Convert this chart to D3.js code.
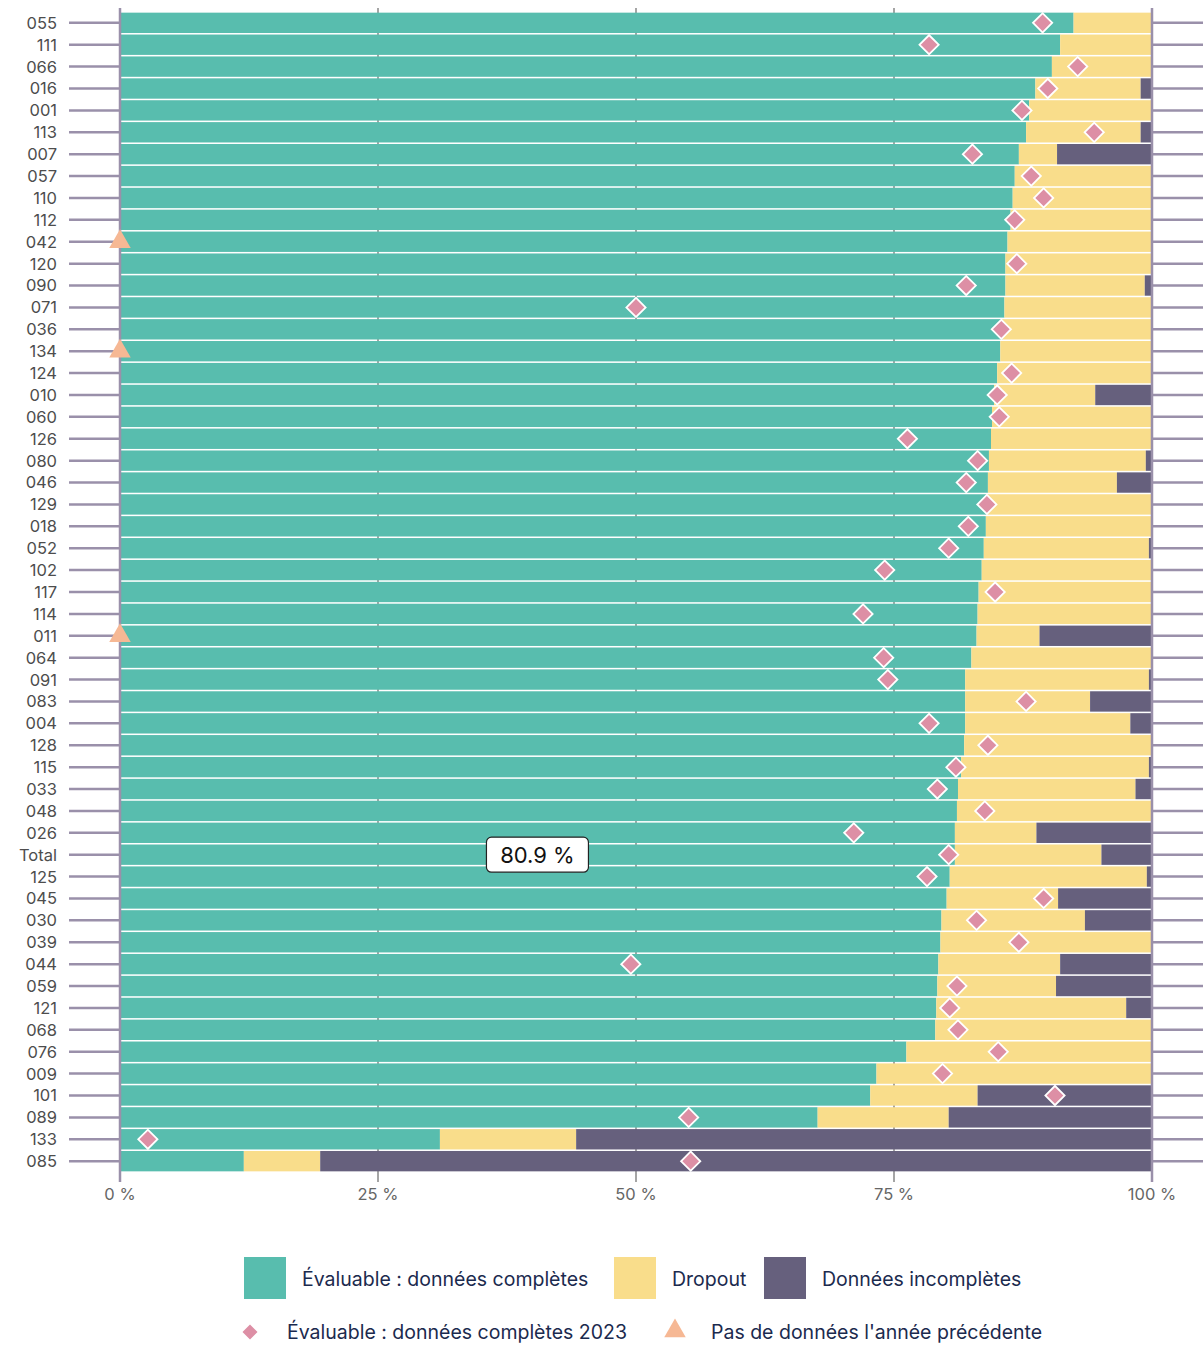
<!DOCTYPE html>
<html>
<head>
<meta charset="utf-8">
<script src="https://cdn.jsdelivr.net/npm/d3@7"></script>
<style>
  body { margin: 0; background: #fff; }
  text { font-family: Inter, "Noto Sans", sans-serif; }
</style>
</head>
<body>
<svg id="chart" width="1203" height="1347"></svg>
<script>
const width = 1203;
const height = 1347;

// categories, top to bottom
var codes = ["055","111","066","016","001","113","007","057","110","112","042","120","090","071","036","134","124","010","060","126",
  "080","046","129","018","052","102","117","114","011","064","091","083","004","128","115","033","048","026","Total","125",
  "045","030","039","044","059","121","068","076","009","101","089","133","085"];

// segment shares in %
var complete = [92.4,91.1,90.3,88.7,88.1,87.8,87.1,86.7,86.5,86.3,86.0,85.8,85.8,85.7,85.5,85.3,85.0,84.7,84.5,84.4,
  84.2,84.1,84.0,83.9,83.7,83.5,83.2,83.1,83.0,82.5,81.9,81.9,81.9,81.8,81.5,81.2,81.1,80.9,80.9,80.4,
  80.1,79.6,79.5,79.3,79.2,79.1,79.0,76.2,73.3,72.7,67.6,31.0,12.0];
var dropout = [7.6,8.9,9.7,10.2,11.9,11.1,3.7,13.3,13.5,13.7,14.0,14.2,13.5,14.3,14.5,14.7,15.0,9.8,15.5,15.6,
  15.2,12.5,16.0,16.1,16.0,16.5,16.7,16.9,6.1,17.5,17.8,12.1,16.0,18.2,18.2,17.2,18.9,7.9,14.2,19.1,
  10.8,13.9,20.5,11.8,11.5,18.4,21.0,23.8,26.7,10.4,12.7,13.2,7.4];
var incomplete = [0,0,0,1.1,0,1.1,9.2,0,0,0,0,0,0.7,0,0,0,0,5.5,0,0,
  0.6,3.4,0,0,0.3,0,0.1,0,10.9,0,0.3,6.0,2.1,0,0.3,1.6,0,11.2,4.9,0.5,
  9.1,6.5,0,8.9,9.3,2.5,0,0,0,16.9,19.7,55.8,80.6];

// complete share 2023, null = no data previous year
var prev2023 = [89.4,78.4,92.8,89.9,87.4,94.4,82.6,88.3,89.5,86.7,null,86.9,82.0,50.0,85.4,null,86.4,85.0,85.2,76.3,
  83.1,82.0,84.0,82.2,80.3,74.1,84.8,72.0,null,74.0,74.4,87.8,78.4,84.1,81.0,79.2,83.8,71.1,80.3,78.2,
  89.5,83.0,87.1,49.5,81.1,80.4,81.2,85.1,79.7,90.6,55.1,2.7,55.3];

var xTicks = [0, 25, 50, 75, 100];
var seriesKeys = ["complete", "dropout", "incomplete"];
var seriesLabels = ["Évaluable : données complètes", "Dropout", "Données incomplètes"];
var colors = ["#58bdae", "#f9dd8b", "#66607d"];
var diamondColor = "#dd8fa5";
var triangleColor = "#f6b894";
var axisColor = "#9a90aa";

var rows = codes.map(function (c, i) {
    return { code: c, complete: complete[i], dropout: dropout[i], incomplete: incomplete[i], prev: prev2023[i] };
});

var svg = d3.select("#chart");

var x = d3.scaleLinear().domain([0, 100]).range([120, 1152]);
var y = d3.scaleBand().domain(codes).range([12, 1172]).paddingInner(0.07).paddingOuter(0.03);

// grid lines
svg.append("g").selectAll("line")
    .data([25, 50, 75])
    .enter().append("line")
    .attr("x1", d => x(d)).attr("x2", d => x(d))
    .attr("y1", 8).attr("y2", 1182)
    .attr("stroke", "#a5a5a5").attr("stroke-width", 2);

// row tick lines left and right
var ticks = svg.append("g");
codes.forEach(function (c) {
    var cy = y(c) + y.bandwidth() / 2;
    ticks.append("line").attr("x1", 69).attr("x2", 120).attr("y1", cy).attr("y2", cy)
        .attr("stroke", axisColor).attr("stroke-width", 2.5);
    ticks.append("line").attr("x1", 1152).attr("x2", 1203).attr("y1", cy).attr("y2", cy)
        .attr("stroke", axisColor).attr("stroke-width", 2.5);
});

// stacked bars
var stack = d3.stack().keys(seriesKeys);
var layers = stack(rows);

svg.append("g").selectAll("g")
    .data(layers)
    .enter().append("g")
    .attr("fill", (d, i) => colors[i])
    .selectAll("rect")
    .data(d => d)
    .enter().append("rect")
    .attr("x", d => x(d[0]))
    .attr("width", d => Math.max(0, x(d[1]) - x(d[0])))
    .attr("y", d => y(d.data.code))
    .attr("height", y.bandwidth());

// axis lines
svg.append("line").attr("x1", 120).attr("x2", 120).attr("y1", 8).attr("y2", 1182)
    .attr("stroke", axisColor).attr("stroke-width", 2.5);
svg.append("line").attr("x1", 1152).attr("x2", 1152).attr("y1", 8).attr("y2", 1182)
    .attr("stroke", axisColor).attr("stroke-width", 2.5);

// y labels
svg.append("g").selectAll("text")
    .data(codes)
    .enter().append("text")
    .attr("x", 57)
    .attr("y", d => y(d) + y.bandwidth() / 2)
    .attr("dy", "0.36em")
    .attr("text-anchor", "end")
    .attr("font-size", 16.5)
    .attr("fill", "#4d4d4d")
    .text(d => d);

// x labels
svg.append("g").selectAll("text")
    .data(xTicks)
    .enter().append("text")
    .attr("x", d => x(d))
    .attr("y", 1200)
    .attr("text-anchor", "middle")
    .attr("font-size", 16.5)
    .attr("fill", "#666")
    .text(d => d + " %");

// diamonds for 2023
var diamond = d3.symbol().type(d3.symbolSquare).size(185);
svg.append("g").selectAll("path")
    .data(rows.filter(d => d.prev != null))
    .enter().append("path")
    .attr("d", diamond)
    .attr("transform", d => "translate(" + x(d.prev) + "," + (y(d.code) + y.bandwidth() / 2) + ") rotate(45)")
    .attr("fill", diamondColor)
    .attr("stroke", "#fff")
    .attr("stroke-width", 1.8);

// triangles for no previous data
var tri = d3.symbol().type(d3.symbolTriangle).size(200);
svg.append("g").selectAll("path")
    .data(rows.filter(d => d.prev == null))
    .enter().append("path")
    .attr("d", tri)
    .attr("transform", d => "translate(" + x(0) + "," + (y(d.code) + y.bandwidth() / 2) + ")")
    .attr("fill", triangleColor);

// total label
var totalRow = rows.find(d => d.code == "Total");
var ty = y("Total") + y.bandwidth() / 2;
var lbl = svg.append("g").attr("transform", "translate(" + x(totalRow.complete / 2) + "," + ty + ")");
lbl.append("rect").attr("x", -51).attr("y", -17.5).attr("width", 102).attr("height", 35)
    .attr("rx", 5).attr("fill", "#fff").attr("stroke", "#222").attr("stroke-width", 1.2);
lbl.append("text").attr("text-anchor", "middle").attr("dy", "0.36em")
    .attr("font-size", 22).attr("fill", "#111")
    .text(d3.format(".1f")(totalRow.complete) + " %");

// legend
var legendRow1 = [244, 614, 764];
var leg = svg.append("g");
seriesLabels.forEach(function (s, i) {
    leg.append("rect").attr("x", legendRow1[i]).attr("y", 1257).attr("width", 42).attr("height", 42)
        .attr("fill", colors[i]);
    leg.append("text").attr("x", legendRow1[i] + 58).attr("y", 1279).attr("dy", "0.35em")
        .attr("font-size", 19.5).attr("fill", "#1b2a4e").text(s);
});
leg.append("path").attr("d", d3.symbol().type(d3.symbolSquare).size(150))
    .attr("transform", "translate(250,1332) rotate(45)").attr("fill", diamondColor)
    .attr("stroke", "#fff").attr("stroke-width", 1.6);
leg.append("text").attr("x", 287).attr("y", 1332).attr("dy", "0.35em")
    .attr("font-size", 19.5).attr("fill", "#1b2a4e").text("Évaluable : données complètes 2023");
leg.append("path").attr("d", tri).attr("transform", "translate(675,1331)").attr("fill", triangleColor);
leg.append("text").attr("x", 711).attr("y", 1332).attr("dy", "0.35em")
    .attr("font-size", 19.5).attr("fill", "#1b2a4e").text("Pas de données l'année précédente");
</script>
</body>
</html>
